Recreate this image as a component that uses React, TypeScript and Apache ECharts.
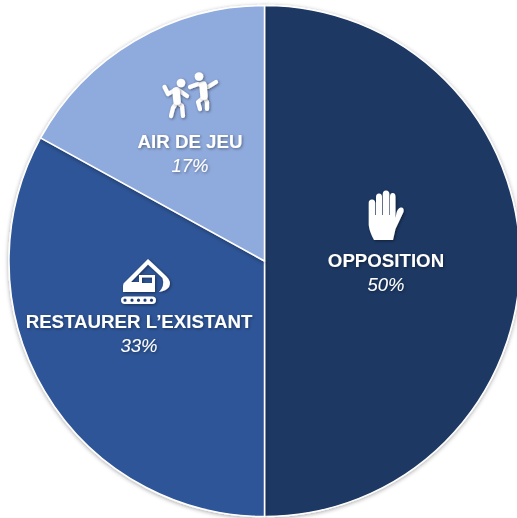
import React, { useEffect, useRef } from "react";
import * as echarts from "echarts";

const categories = ["OPPOSITION", "RESTAURER L’EXISTANT", "AIR DE JEU"];
const shares = [50, 33, 17];
const colors = ["#1F3864", "#2F5597", "#8FAADC"];
const labelCentres = [
  [386, 272],
  [139, 333],
  [190, 153],
];

const HAND =
  "M374 240 L393 240 L395.5 229 L403.5 212 Q404.5 207 400.5 207.5 Q397.5 208.5 396.5 213 L395.5 218 L395.5 197 Q395.5 193 392.7 193 Q390 193 390 197 L390 215 L389.3 215 L389.3 194 Q389.3 190.5 386 190.5 Q382.8 190.5 382.8 194 L382.8 215 L382 215 L382 197 Q382 193.5 379 193.5 Q376 193.5 376 197 L376 215 L375.2 215 L375.2 203 Q375.2 199.5 372 199.5 Q368.7 199.5 368.7 203 L368.7 225 Q369.5 232 374 240 Z";

const DIGGER =
  "M123 292 L123 286 Q123 283 125 282 L148 259 L166 276 Q172 282 169 287 Q166 291 159 292 Q165 286 162.5 278 L148 264.5 L131 282 L139 282 L139 275 L155 275 L155 292 Z " +
  "M142 277.5 L142 283 L152 283 L152 277.5 Z " +
  "M125 296.5 L152 296.5 Q156 296.5 156 300 Q156 304 152 304 L125 304 Q121 304 121 300 Q121 296.5 125 296.5 Z " +
  "M125 298.5 A1.7 1.7 0 0 0 125 301.9 A1.7 1.7 0 0 0 125 298.5 Z " +
  "M132 298.5 A1.7 1.7 0 0 0 132 301.9 A1.7 1.7 0 0 0 132 298.5 Z " +
  "M138.5 298.5 A1.7 1.7 0 0 0 138.5 301.9 A1.7 1.7 0 0 0 138.5 298.5 Z " +
  "M145 298.5 A1.7 1.7 0 0 0 145 301.9 A1.7 1.7 0 0 0 145 298.5 Z " +
  "M151.5 298.5 A1.7 1.7 0 0 0 151.5 301.9 A1.7 1.7 0 0 0 151.5 298.5 Z";

const DANCER_LIMBS =
  "M164.5 87 L168 94 L177 89 L187 96 " +
  "M177 102 L182 106 L183 116 " +
  "M177 102 L173 108 L171 116 " +
  "M190 87 L198 84 L208 87 L216 82 " +
  "M204 97 L198 102 L200 109 " +
  "M204 97 L207 102 L207 109";

const DANCER_TORSOS = "M176 91 L177 101 M203 85 L204 96";

export default function App() {
  const ref = useRef<HTMLDivElement>(null);
  useEffect(() => {
    echarts.graphic.registerShape("hand", echarts.graphic.extendPath(HAND, {}) as any);
    echarts.graphic.registerShape("digger", echarts.graphic.extendPath(DIGGER, {}) as any);
    echarts.graphic.registerShape("limbs", echarts.graphic.extendPath(DANCER_LIMBS, {}) as any);
    echarts.graphic.registerShape("torsos", echarts.graphic.extendPath(DANCER_TORSOS, {}) as any);
    const chart = echarts.init(ref.current!, null, { renderer: "svg" });
    const iconShadow = { shadowBlur: 3, shadowColor: "rgba(0,0,0,0.45)", shadowOffsetX: 1, shadowOffsetY: 1 };
    const textShadow = {
      textShadowBlur: 3,
      textShadowColor: "rgba(0,0,0,0.4)",
      textShadowOffsetX: 1,
      textShadowOffsetY: 1,
    };
    chart.setOption({
      animation: false,
      backgroundColor: "#ffffff",
      series: [
        {
          type: "pie",
          center: [264.5, 261],
          radius: [0, 255.5],
          startAngle: 90,
          clockwise: true,
          silent: true,
          data: categories.map((name, i) => ({
            name,
            value: shares[i],
            itemStyle: { color: colors[i] },
          })),
          itemStyle: {
            borderColor: "#ffffff",
            borderWidth: 1.5,
            shadowBlur: 4,
            shadowColor: "rgba(0,0,0,0.35)",
            shadowOffsetY: 1,
          },
          labelLine: { show: false },
          label: {
            show: true,
            position: "inside",
            formatter: (p: any) => `{n|${p.name}}\n{p|${p.value}%}`,
            rich: {
              n: {
                fontFamily: "Liberation Sans",
                fontWeight: "bold",
                fontSize: 18.7,
                lineHeight: 24,
                color: "#ffffff",
                align: "center",
                ...textShadow,
              },
              p: {
                fontFamily: "Liberation Sans",
                fontStyle: "italic",
                fontSize: 18.5,
                lineHeight: 24,
                color: "#ffffff",
                align: "center",
                ...textShadow,
              },
            },
          },
          labelLayout: (p: any) => ({
            x: labelCentres[p.dataIndex][0],
            y: labelCentres[p.dataIndex][1],
            align: "center",
            verticalAlign: "middle",
          }),
        },
      ],
      graphic: [
        { type: "hand", z: 10, x: 0, y: 0, style: { fill: "#ffffff", ...iconShadow } },
        { type: "digger", z: 10, x: 0, y: 0, style: { fill: "#ffffff", ...iconShadow } },
        {
          type: "limbs",
          z: 10,
          x: 0,
          y: 0,
          style: { fill: "none", stroke: "#ffffff", lineWidth: 4.2, lineCap: "round", lineJoin: "round", ...iconShadow },
        },
        {
          type: "torsos",
          z: 10,
          x: 0,
          y: 0,
          style: { fill: "none", stroke: "#ffffff", lineWidth: 7.5, lineCap: "round", lineJoin: "round", ...iconShadow },
        },
        { type: "circle", z: 10, shape: { cx: 181, cy: 83, r: 4.3 }, style: { fill: "#ffffff", ...iconShadow } },
        { type: "circle", z: 10, shape: { cx: 199, cy: 76.5, r: 4.3 }, style: { fill: "#ffffff", ...iconShadow } },
      ],
    });
    return () => chart.dispose();
  }, []);
  return <div ref={ref} style={{ position: "absolute", left: 0, top: 0, width: 517, height: 518 }} />;
}
